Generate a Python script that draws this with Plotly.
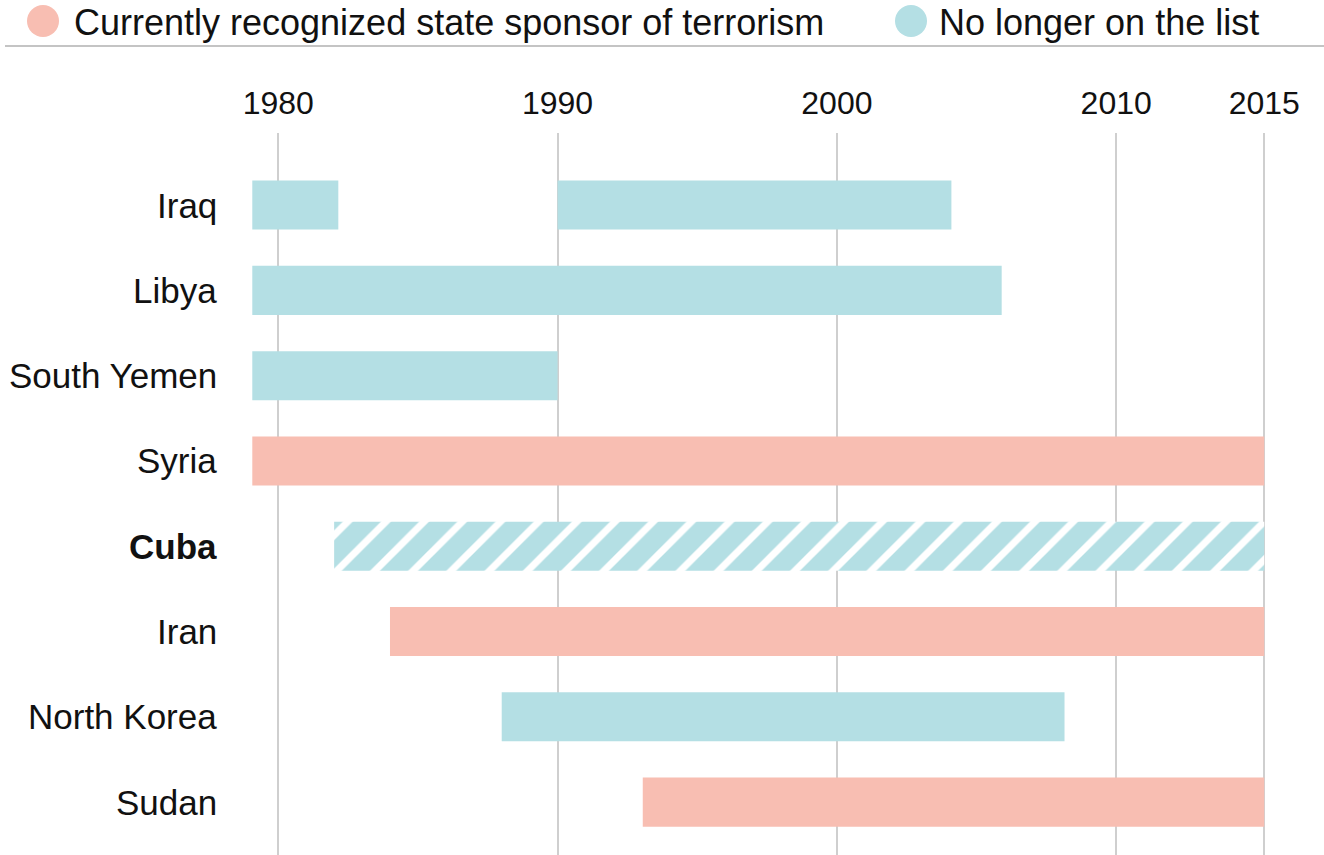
import plotly.graph_objects as go

# Countries in display order (top to bottom)
countries = ["Iraq", "Libya", "South Yemen", "Syria", "Cuba", "Iran", "North Korea", "Sudan"]

# Periods on the list: one entry per bar segment
bar_country = ["Iraq", "Iraq", "Libya", "South Yemen", "Syria", "Cuba", "Iran", "North Korea", "Sudan"]
bar_start = [1979.07, 1990.0, 1979.07, 1979.07, 1979.07, 1982.0, 1984.0, 1988.0, 1993.05]
bar_end = [1982.15, 2004.1, 2005.9, 1990.0, 2015.3, 2015.3, 2015.3, 2008.15, 2015.3]
bar_status = ["former", "former", "former", "former", "current", "removing", "current", "former", "current"]

# Axis ticks
tick_years = [1980, 1990, 2000, 2010, 2015.3]
tick_labels = ["1980", "1990", "2000", "2010", "2015"]

legend_labels = ["Currently recognized state sponsor of terrorism", "No longer on the list"]

PINK = "#F8BEB2"
TEAL = "#B4DFE4"
FONT = "Liberation Sans, Arial, sans-serif"

W, H = 1324, 855
ML, MR, MT, MB = 240, 0, 133, 0
PW, PH = W - ML - MR, H - MT - MB


def px_x(px):
    return (px - ML) / PW


def px_y(py):
    return (H - MB - py) / PH


row = {c: i for i, c in enumerate(countries)}

fig = go.Figure()


def add_bars(status, **marker):
    idx = [i for i, s in enumerate(bar_status) if s == status]
    fig.add_trace(go.Bar(
        orientation="h",
        y=[row[bar_country[i]] for i in idx],
        base=[bar_start[i] for i in idx],
        x=[bar_end[i] - bar_start[i] for i in idx],
        width=0.575,
        marker=dict(line=dict(width=0), **marker),
        hoverinfo="skip",
        showlegend=False,
    ))


add_bars("former", color=TEAL)
add_bars("current", color=PINK)
add_bars("removing", color=TEAL,
         pattern=dict(shape="/", bgcolor=TEAL, fgcolor="#ffffff", size=27, solidity=0.26,
                      fillmode="replace"))

annotations = []
for c in countries:
    txt = f"<b>{c}</b>" if c == "Cuba" else c
    annotations.append(dict(
        text=txt, x=px_x(219), xref="paper", y=row[c], yref="y",
        xanchor="right", yanchor="middle", showarrow=False,
        font=dict(family=FONT, size=35, color="#111"),
    ))

# Legend: colored dots with labels
legend_items = [(PINK, 43, 72, legend_labels[0]), (TEAL, 911, 937, legend_labels[1])]
shapes = []
for color, cx, tx, label in legend_items:
    r = 16
    shapes.append(dict(type="circle", xref="paper", yref="paper",
                       x0=px_x(cx - r), x1=px_x(cx + r), y0=px_y(21 + r), y1=px_y(21 - r),
                       fillcolor=color, line=dict(width=0)))
    annotations.append(dict(
        text=label, x=px_x(tx), xref="paper", y=px_y(22), yref="paper",
        xanchor="left", yanchor="middle", showarrow=False,
        font=dict(family=FONT, size=36, color="#111"),
    ))

shapes.append(dict(type="line", xref="paper", yref="paper",
                   x0=px_x(5), x1=px_x(W), y0=px_y(46), y1=px_y(46),
                   line=dict(color="#c4c4c4", width=2)))

fig.update_layout(
    width=W, height=H,
    margin=dict(l=ML, r=MR, t=MT, b=MB, pad=0),
    paper_bgcolor="white", plot_bgcolor="white",
    barmode="overlay",
    showlegend=False,
    shapes=shapes,
    annotations=annotations,
    xaxis=dict(
        range=[1978.63, 2017.44],
        side="top",
        tickvals=tick_years, ticktext=tick_labels,
        showgrid=True, gridcolor="#cfcfcf", gridwidth=1.5,
        zeroline=False, showline=False, ticks="",
        tickfont=dict(family=FONT, size=32, color="#111"),
        ticklabelstandoff=12,
    ),
    yaxis=dict(
        range=[7.62, -0.845],
        showgrid=False, zeroline=False, showline=False,
        showticklabels=False, ticks="",
    ),
)

fig.write_html("out.html")
